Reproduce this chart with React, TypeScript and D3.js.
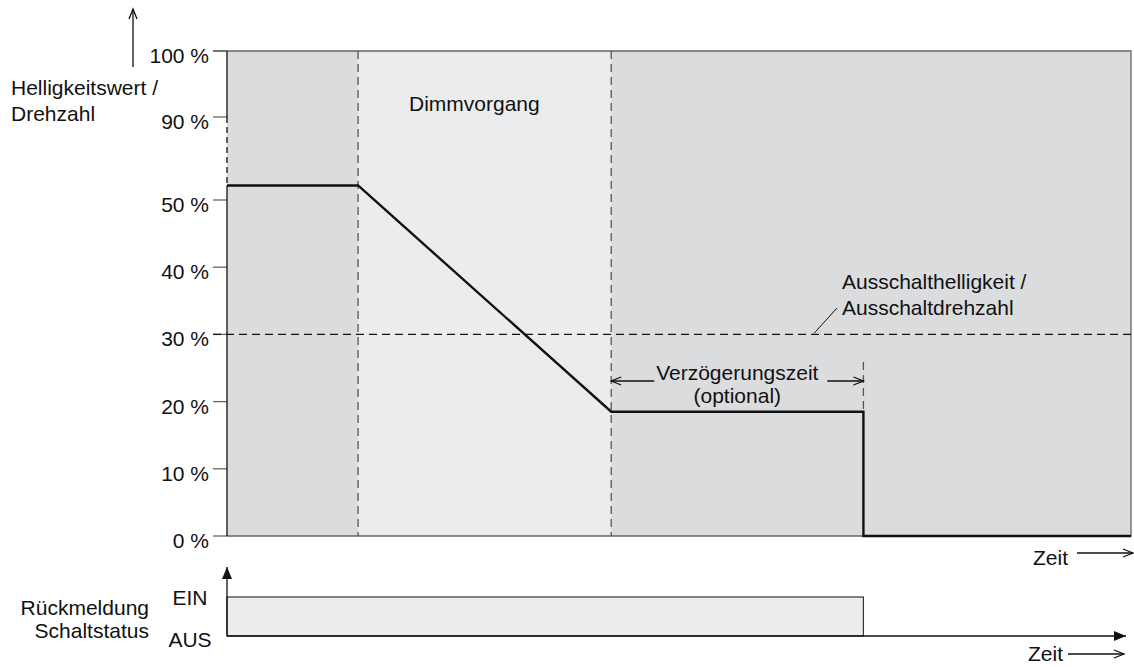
import React, { useEffect, useRef } from "react";
import * as d3 from "d3";

// y axis of the upper panel (axis is broken between 50 % and 90 %)
const yTicks = [0, 10, 20, 30, 40, 50, 90, 100];
const yTickLabels = ["0 %", "10 %", "20 %", "30 %", "40 %", "50 %", "90 %", "100 %"];

// time marks in % of the time axis: start, dimming start, dimming end, switch off, end
const phaseTimes = [0, 14.5, 42.5, 70.4, 100];

// brightness / speed curve
const curveTimes = [0, 14.5, 42.5, 70.4, 70.4, 100];
const curveValues = [57, 57, 18.5, 18.5, 0, 0];

const switchOffLevel = 30;

// status feedback
const statusLevels = ["AUS", "EIN"];
const statusTimes = [0, 70.4];
const statusValues = ["EIN", "EIN"];

const DARK = "#dbdcde";
const LIGHT = "#ebecee";
const FONT = "'Liberation Sans', Arial, sans-serif";

const App = () => {
  const ref = useRef<SVGSVGElement>(null);

  useEffect(() => {
    const svg = d3.select(ref.current);
    svg.selectAll("*").remove();

    const x = d3.scaleLinear().domain([0, 100]).range([227, 1131]);
    const y = d3.scaleLinear().domain([0, 50, 90, 100]).range([536, 200, 117, 51]);
    const ys = d3.scalePoint().domain(statusLevels).range([636, 597]);

    const defs = svg.append("defs");
    defs.append("marker")
      .attr("id", "open")
      .attr("markerUnits", "userSpaceOnUse")
      .attr("markerWidth", 14).attr("markerHeight", 12)
      .attr("refX", 11).attr("refY", 5)
      .attr("orient", "auto-start-reverse")
      .append("path")
      .attr("d", "M1,1 L11,5 L1,9")
      .attr("fill", "none")
      .attr("stroke", "#111")
      .attr("stroke-width", 1.3);
    defs.append("marker")
      .attr("id", "filled")
      .attr("markerUnits", "userSpaceOnUse")
      .attr("markerWidth", 14).attr("markerHeight", 12)
      .attr("refX", 12).attr("refY", 5)
      .attr("orient", "auto")
      .append("path")
      .attr("d", "M0,0 L12,5 L0,10 Z")
      .attr("fill", "#111");

    // background phases
    const bands = [
      { from: phaseTimes[0], to: phaseTimes[1], fill: DARK },
      { from: phaseTimes[1], to: phaseTimes[2], fill: LIGHT },
      { from: phaseTimes[2], to: phaseTimes[4], fill: DARK },
    ];
    svg.selectAll(".band")
      .data(bands)
      .enter()
      .append("rect")
      .attr("x", d => x(d.from))
      .attr("y", y(100))
      .attr("width", d => x(d.to) - x(d.from))
      .attr("height", y(0) - y(100))
      .attr("fill", d => d.fill);

    // frame: top, right, bottom (gray)
    svg.append("path")
      .attr("d", `M${x(0) - 14},${y(100)} H${x(100)} V${y(0)} H${x(0)}`)
      .attr("fill", "none")
      .attr("stroke", "#666")
      .attr("stroke-width", 1.3);

    // y ticks + labels
    svg.selectAll(".tick")
      .data(yTicks)
      .enter()
      .append("line")
      .attr("x1", x(0) - 14)
      .attr("x2", x(0))
      .attr("y1", d => y(d))
      .attr("y2", d => y(d))
      .attr("stroke", "#666")
      .attr("stroke-width", 1.3);
    svg.selectAll(".tick-label")
      .data(yTicks)
      .enter()
      .append("text")
      .attr("x", 209)
      .attr("y", d => y(d) + 12)
      .attr("text-anchor", "end")
      .style("font-family", FONT)
      .style("font-size", "21px")
      .attr("fill", "#111")
      .text((d, i) => yTickLabels[i]);

    // left axis, broken between 90 % and the start level
    const axisParts = [
      { a: 100, b: 90, dash: null },
      { a: 90, b: curveValues[0], dash: "6,4" },
      { a: curveValues[0], b: 0, dash: null },
    ];
    svg.selectAll(".axis-part")
      .data(axisParts)
      .enter()
      .append("line")
      .attr("x1", x(0)).attr("x2", x(0))
      .attr("y1", d => y(d.a)).attr("y2", d => y(d.b))
      .attr("stroke", "#111")
      .attr("stroke-width", 1.3)
      .attr("stroke-dasharray", d => d.dash);

    // phase separators
    svg.selectAll(".sep")
      .data([phaseTimes[1], phaseTimes[2]])
      .enter()
      .append("line")
      .attr("x1", d => x(d)).attr("x2", d => x(d))
      .attr("y1", y(100)).attr("y2", y(0))
      .attr("stroke", "#555")
      .attr("stroke-width", 1.3)
      .attr("stroke-dasharray", "8,5");
    svg.append("line")
      .attr("x1", x(phaseTimes[3])).attr("x2", x(phaseTimes[3]))
      .attr("y1", 362).attr("y2", y(curveValues[3]))
      .attr("stroke", "#555")
      .attr("stroke-width", 1.3)
      .attr("stroke-dasharray", "8,5");

    // switch-off level
    svg.append("line")
      .attr("x1", x(0) - 14).attr("x2", x(100))
      .attr("y1", y(switchOffLevel)).attr("y2", y(switchOffLevel))
      .attr("stroke", "#111")
      .attr("stroke-width", 1.2)
      .attr("stroke-dasharray", "8,5");

    // curve
    const curve = curveTimes.map((t, i) => [x(t), y(curveValues[i])] as [number, number]);
    svg.append("path")
      .attr("d", d3.line()(curve))
      .attr("fill", "none")
      .attr("stroke", "#111")
      .attr("stroke-width", 2.4);

    const txt = (tx: number, ty: number, s: string, anchor = "start") =>
      svg.append("text")
        .attr("x", tx).attr("y", ty)
        .attr("text-anchor", anchor)
        .style("font-family", FONT)
        .style("font-size", "21px")
        .attr("fill", "#111")
        .text(s);

    // y title with arrow
    svg.append("line")
      .attr("x1", 133).attr("x2", 133).attr("y1", 67).attr("y2", 9)
      .attr("stroke", "#111").attr("stroke-width", 1.3)
      .attr("marker-end", "url(#open)");
    txt(11, 95, "Helligkeitswert /");
    txt(11, 121, "Drehzahl");

    txt(409, 111, "Dimmvorgang");

    // switch-off annotation
    svg.append("line")
      .attr("x1", 814).attr("y1", y(switchOffLevel) - 1)
      .attr("x2", 837).attr("y2", 308)
      .attr("stroke", "#111").attr("stroke-width", 1);
    txt(842, 289, "Ausschalthelligkeit /");
    txt(842, 315, "Ausschaltdrehzahl");

    // delay dimension
    const mid = (x(phaseTimes[2]) + x(phaseTimes[3])) / 2;
    svg.append("line")
      .attr("x1", x(phaseTimes[2])).attr("x2", mid - 83)
      .attr("y1", 381).attr("y2", 381)
      .attr("stroke", "#111").attr("stroke-width", 1.3)
      .attr("marker-start", "url(#open)");
    svg.append("line")
      .attr("x1", mid + 90).attr("x2", x(phaseTimes[3]))
      .attr("y1", 381).attr("y2", 381)
      .attr("stroke", "#111").attr("stroke-width", 1.3)
      .attr("marker-end", "url(#open)");
    txt(mid, 380, "Verzögerungszeit", "middle");
    txt(mid, 403, "(optional)", "middle");

    // time label upper
    txt(1033, 565, "Zeit");
    svg.append("line")
      .attr("x1", 1077).attr("x2", 1133).attr("y1", 553).attr("y2", 553)
      .attr("stroke", "#111").attr("stroke-width", 1.3)
      .attr("marker-end", "url(#open)");

    // status panel
    svg.append("rect")
      .attr("x", x(statusTimes[0]))
      .attr("y", ys(statusValues[0]))
      .attr("width", x(statusTimes[1]) - x(statusTimes[0]))
      .attr("height", ys("AUS")! - ys("EIN")!)
      .attr("fill", LIGHT)
      .attr("stroke", "#333")
      .attr("stroke-width", 1.2);
    svg.append("line")
      .attr("x1", x(0)).attr("x2", 1126)
      .attr("y1", ys("AUS")).attr("y2", ys("AUS"))
      .attr("stroke", "#111").attr("stroke-width", 1.3)
      .attr("marker-end", "url(#filled)");
    svg.append("line")
      .attr("x1", x(0)).attr("x2", x(0))
      .attr("y1", ys("AUS")).attr("y2", 567)
      .attr("stroke", "#111").attr("stroke-width", 1.3)
      .attr("marker-end", "url(#filled)");
    statusLevels.forEach(s => txt(190, ys(s)! + (s === "EIN" ? 8 : 11), s, "middle"));
    txt(149, 615, "Rückmeldung", "end");
    txt(149, 638, "Schaltstatus", "end");

    txt(1028, 661, "Zeit");
    svg.append("line")
      .attr("x1", 1068).attr("x2", 1124).attr("y1", 654).attr("y2", 654)
      .attr("stroke", "#111").attr("stroke-width", 1.3)
      .attr("marker-end", "url(#open)");
  }, []);

  return (
    <svg
      ref={ref}
      width={1134}
      height={667}
      style={{ position: "absolute", left: 0, top: 0, display: "block", background: "#fff" }}
    />
  );
};

export default App;
